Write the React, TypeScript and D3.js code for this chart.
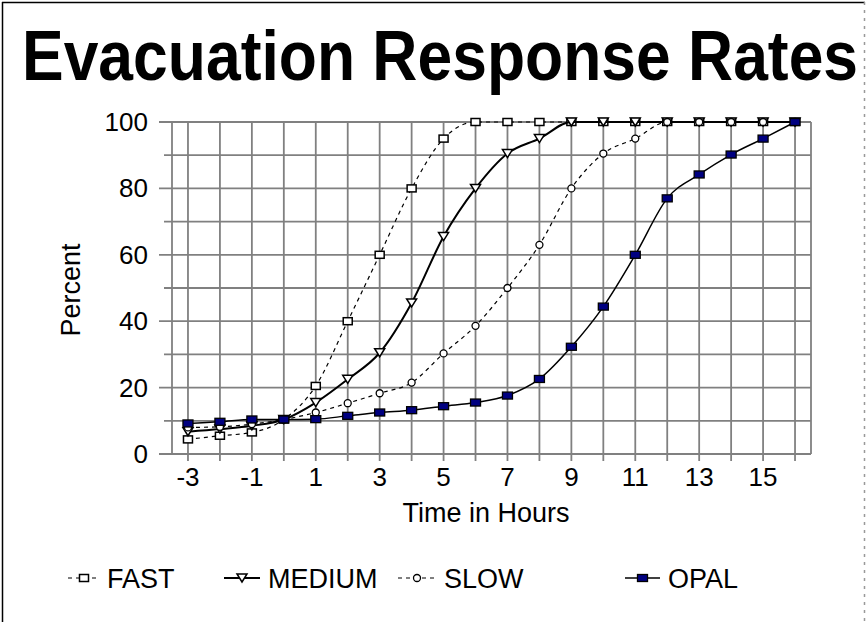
import React, { useRef, useLayoutEffect, useState } from "react";
import { scaleLinear, line, curveMonotoneX } from "d3";

const hours = [-3, -2, -1, 0, 1, 2, 3, 4, 5, 6, 7, 8, 9, 10, 11, 12, 13, 14, 15, 16];
const fast = [4.4, 5.5, 6.5, 10.4, 20.5, 40, 60, 80, 95, 100, 100, 100, 100, 100, 100, 100, 100, 100, 100, 100];
const medium = [6.7, 7.5, 8.5, 10.4, 15.5, 22.5, 30.5, 45.5, 65.5, 80, 90.5, 95, 100, 100, 100, 100, 100, 100, 100, 100];
const slow = [8, 8.2, 9, 10.4, 12.5, 15.3, 18.3, 21.5, 30.3, 38.6, 50, 63, 80, 90.5, 95, 100, 100, 100, 100, 100];
const opal = [9.2, 9.7, 10.4, 10.4, 10.5, 11.5, 12.5, 13.2, 14.4, 15.5, 17.6, 22.6, 32.3, 44.4, 60, 77, 84.2, 90.2, 95, 100];

const xTickLabels = [-3, -1, 1, 3, 5, 7, 9, 11, 13, 15];
const yTickLabels = [0, 20, 40, 60, 80, 100];
const yGrid = [0, 10, 20, 30, 40, 50, 60, 70, 80, 90, 100];

const W = 866;
const H = 622;
const FONT = "'Liberation Sans', Arial, sans-serif";
const TITLE_W = 836;

const x = scaleLinear().domain([-3.5, 16.5]).range([172, 811]);
const y = scaleLinear().domain([0, 100]).range([454, 122]);

type Marker = "square" | "triangle" | "circle" | "filled";

const series: { name: string; values: number[]; dash?: string; width: number; marker: Marker }[] = [
  { name: "FAST", values: fast, dash: "4,4", width: 1.2, marker: "square" },
  { name: "MEDIUM", values: medium, width: 2, marker: "triangle" },
  { name: "SLOW", values: slow, dash: "4,4", width: 1.2, marker: "circle" },
  { name: "OPAL", values: opal, width: 1.5, marker: "filled" },
];

function drawMarker(kind: Marker, cx: number, cy: number, key: string | number) {
  if (kind === "square")
    return <rect key={key} x={cx - 4.5} y={cy - 3.5} width={9} height={7} fill="#fff" stroke="#000" strokeWidth={1.5} />;
  if (kind === "triangle")
    return <path key={key} d={`M${cx - 5},${cy - 4}L${cx + 5},${cy - 4}L${cx},${cy + 4}Z`} fill="#fff" stroke="#000" strokeWidth={1.5} />;
  if (kind === "circle")
    return <circle key={key} cx={cx} cy={cy} r={3.5} fill="#fff" stroke="#000" strokeWidth={1.3} />;
  return <rect key={key} x={cx - 5} y={cy - 3.5} width={10} height={7} fill="#000080" stroke="#000" strokeWidth={1.3} />;
}

const legendPos = [
  { x1: 68, x2: 100, tx: 107 },
  { x1: 224, x2: 260, tx: 268 },
  { x1: 398, x2: 436, tx: 444 },
  { x1: 625, x2: 660, tx: 668 },
];

export default function App() {
  const titleRef = useRef<SVGTextElement>(null);
  const [titleScale, setTitleScale] = useState(0.88);

  // squeeze the bold title horizontally, like the narrow original
  useLayoutEffect(() => {
    if (!titleRef.current) return;
    const w = titleRef.current.getComputedTextLength();
    if (w > 0) setTitleScale(TITLE_W / w);
  }, []);

  const gen = line<number>()
    .x((d, i) => x(hours[i]))
    .y((d) => y(d))
    .curve(curveMonotoneX);

  return (
    <svg width={W} height={H} style={{ position: "absolute", left: 0, top: 0, background: "#fff" }} fontFamily={FONT}>
      <rect x={0} y={0} width={W} height={H} fill="#fff" />
      {/* outer frame */}
      <line x1={2.5} y1={2} x2={2.5} y2={H} stroke="#000" strokeWidth={1.5} />
      <line x1={2} y1={2.5} x2={865} y2={2.5} stroke="#000" strokeWidth={1.5} />
      <line x1={864.5} y1={2} x2={864.5} y2={H} stroke="#999" strokeWidth={1.5} strokeDasharray="3,5" />

      <text ref={titleRef} transform={`translate(22,80) scale(${titleScale},1)`} fontSize={71} fontWeight="bold">
        Evacuation Response Rates
      </text>

      {/* grid */}
      {yGrid.map((v) => (
        <line key={"h" + v} x1={v % 20 === 0 ? x(-3.5) - 13 : x(-3.5) - 8} x2={x(16.5)} y1={y(v)} y2={y(v)} stroke="#808080" strokeWidth={1.8} />
      ))}
      {hours.map((h) => (
        <line key={"v" + h} x1={x(h)} x2={x(h)} y1={y(100)} y2={y(0) + 7} stroke="#808080" strokeWidth={1.8} />
      ))}
      <line x1={x(-3.5)} x2={x(-3.5)} y1={y(100)} y2={y(0)} stroke="#808080" strokeWidth={1.8} />
      <line x1={x(16.5)} x2={x(16.5)} y1={y(100)} y2={y(0)} stroke="#808080" strokeWidth={1.8} />

      {yTickLabels.map((v) => (
        <text key={"yl" + v} x={148} y={y(v) + 9} fontSize={26} textAnchor="end">
          {v}
        </text>
      ))}
      {xTickLabels.map((h) => (
        <text key={"xl" + h} x={x(h)} y={486} fontSize={26} textAnchor="middle">
          {h}
        </text>
      ))}
      <text x={486} y={522} fontSize={27} textAnchor="middle">
        Time in Hours
      </text>
      <text transform="translate(80,290) rotate(-90)" fontSize={27} textAnchor="middle">
        Percent
      </text>

      {/* series */}
      {series.map((s) => (
        <g key={s.name}>
          <path d={gen(s.values) ?? ""} fill="none" stroke="#000" strokeWidth={s.width} strokeDasharray={s.dash} />
          {s.values.map((v, i) => drawMarker(s.marker, x(hours[i]), y(v), i))}
        </g>
      ))}

      {/* legend */}
      {series.map((s, i) => {
        const p = legendPos[i];
        const cy = 578;
        return (
          <g key={"lg" + s.name}>
            <line x1={p.x1} x2={p.x2} y1={cy} y2={cy} stroke="#000" strokeWidth={s.width} strokeDasharray={s.dash} />
            {drawMarker(s.marker, (p.x1 + p.x2) / 2, cy, "m")}
            <text x={p.tx} y={cy + 10} fontSize={27}>
              {s.name}
            </text>
          </g>
        );
      })}
    </svg>
  );
}
